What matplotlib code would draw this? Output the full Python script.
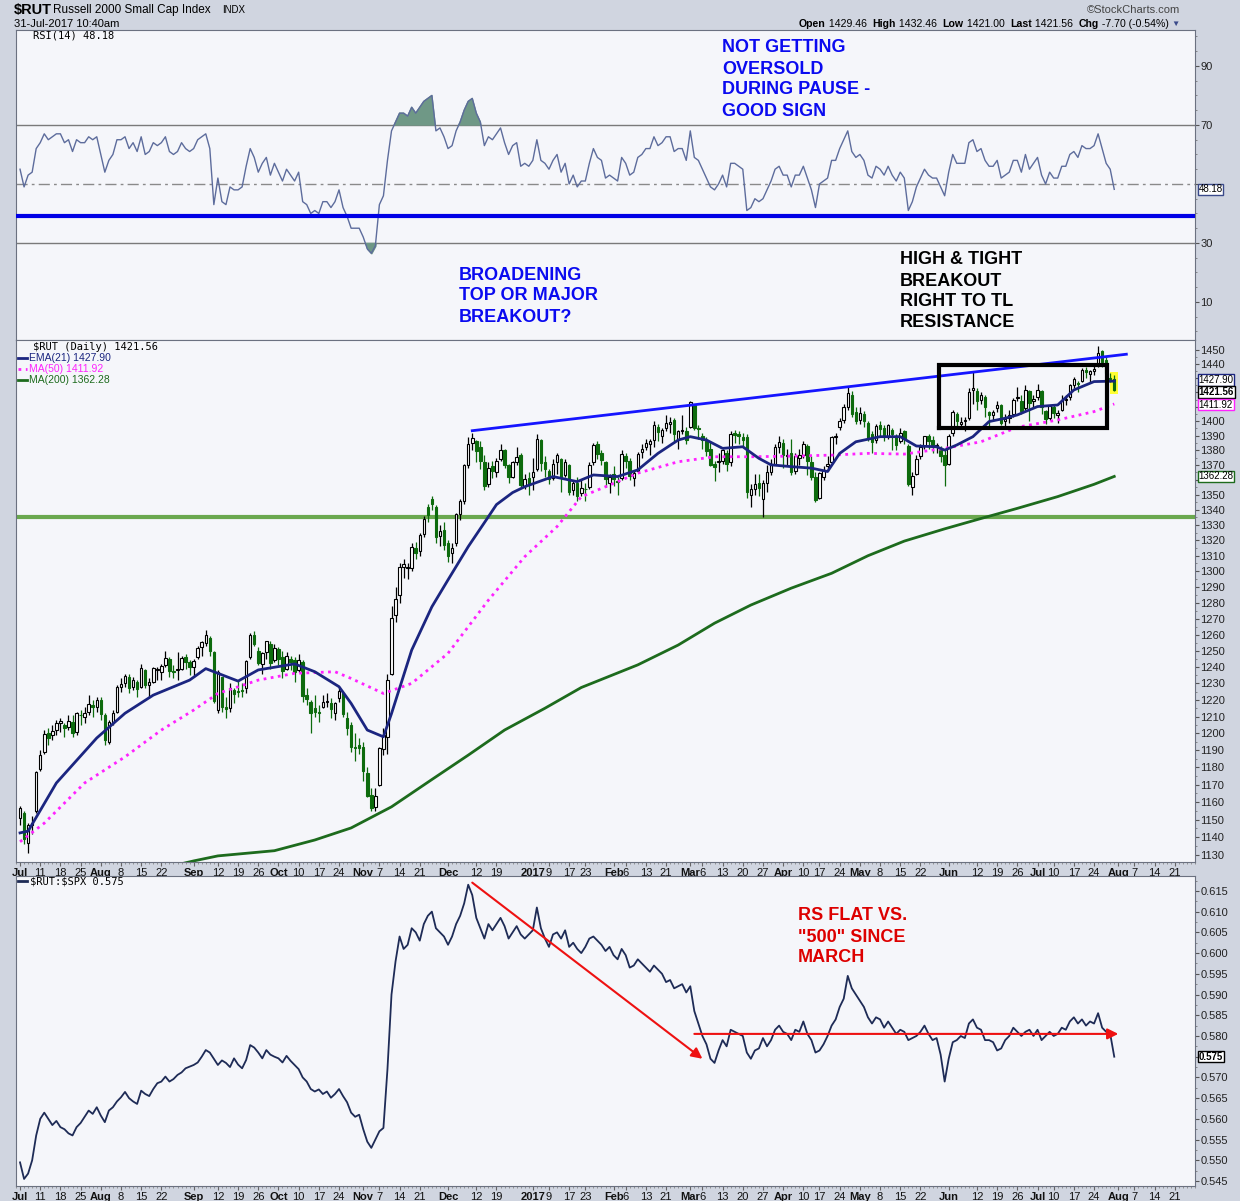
import matplotlib
matplotlib.use('Agg')
import matplotlib.pyplot as plt
import matplotlib.transforms as mtransforms
from matplotlib.lines import Line2D
from matplotlib.ticker import FixedLocator, NullFormatter, FuncFormatter
import numpy as np
import pandas as pd

plt.rcParams['font.family'] = ['Liberation Sans', 'DejaVu Sans']

# trading calendar (NYSE holidays dropped), runs past the data into Aug 2017
holidays = ['2016-07-04', '2016-09-05', '2016-11-24', '2016-12-26', '2017-01-02',
            '2017-01-16', '2017-02-20', '2017-04-14', '2017-05-29', '2017-07-04']
trade_days = pd.bdate_range('2016-07-01', '2017-08-31')
trade_days = trade_days[~trade_days.isin(pd.to_datetime(holidays))]
slot = {d: i for i, d in enumerate(trade_days)}


def xpos(d):
    return slot[pd.Timestamp(d)]


# $RUT daily candles, 1 Jul 2016 .. 31 Jul 2017 (one row per month)
opens = [
    1151, 1154, 1137, 1147, 1155, 1179, 1189, 1200, 1199, 1202, 1206, 1205, 1204, 1207, 1201, 1211, 1210, 1213, 1217, 1216,
    1220, 1211, 1195, 1207, 1213, 1228, 1230, 1234, 1228, 1231, 1228, 1238, 1229, 1231, 1238, 1237, 1241, 1245, 1237, 1238, 1239, 1246, 1243,
    1240, 1246, 1252, 1255, 1258, 1249, 1214, 1234, 1216, 1215, 1226, 1225, 1226, 1227, 1246, 1260, 1250, 1242, 1249, 1254, 1244,
    1251, 1246, 1239, 1245, 1244, 1238, 1243, 1223, 1219, 1215, 1213, 1216, 1219, 1218, 1212, 1221, 1224, 1209, 1205, 1192, 1193,
    1192, 1177, 1164, 1157, 1170, 1191, 1198, 1236, 1272, 1285, 1303, 1302, 1302, 1315, 1313, 1324, 1342, 1347, 1342, 1323, 1327,
    1318, 1312, 1318, 1337, 1346, 1370, 1385, 1386, 1382, 1372, 1357, 1369, 1365, 1374, 1380, 1370, 1362, 1372, 1377, 1356, 1361,
    1362, 1367, 1387, 1372, 1366, 1361, 1372, 1374, 1363, 1370, 1353, 1358, 1351, 1354, 1355, 1372, 1384, 1378, 1372, 1358,
    1364, 1359, 1361, 1376, 1373, 1361, 1366, 1379, 1382, 1384, 1387, 1396, 1390, 1395, 1398, 1401, 1388, 1393, 1393,
    1396, 1411, 1395, 1390, 1386, 1381, 1371, 1372, 1373, 1378, 1372, 1392, 1391, 1389, 1389, 1350, 1354, 1358, 1347, 1358, 1365, 1371, 1382,
    1385, 1376, 1378, 1366, 1375, 1377, 1383, 1372, 1362, 1348, 1362, 1369, 1372, 1389, 1396, 1401, 1410, 1418, 1406,
    1401, 1405, 1399, 1391, 1387, 1397, 1395, 1390, 1394, 1390, 1386, 1393, 1383, 1355, 1364, 1376, 1383, 1390, 1387, 1382, 1381, 1377,
    1371, 1392, 1405, 1398, 1400, 1402, 1422, 1421, 1415, 1417, 1406, 1404, 1409, 1411, 1400, 1402, 1405, 1416, 1414, 1409, 1421, 1414,
    1417, 1421, 1407, 1402, 1410, 1404, 1408, 1415, 1417, 1425, 1426, 1428, 1436, 1433, 1435, 1440, 1449, 1443, 1430, 1429.46,
]
highs = [
    1158, 1155, 1148, 1152, 1178, 1190, 1202, 1203, 1205, 1208, 1209, 1206, 1211, 1211, 1213, 1214, 1216, 1223, 1220, 1222,
    1222, 1212, 1208, 1214, 1229, 1233, 1236, 1236, 1234, 1232, 1242, 1239, 1233, 1240, 1240, 1242, 1250, 1246, 1241, 1249, 1247, 1248, 1244,
    1245, 1253, 1256, 1263, 1259, 1250, 1238, 1234, 1222, 1230, 1227, 1232, 1230, 1244, 1261, 1262, 1252, 1249, 1256, 1256, 1254,
    1252, 1250, 1249, 1247, 1246, 1248, 1244, 1227, 1220, 1223, 1217, 1223, 1224, 1221, 1219, 1228, 1225, 1213, 1207, 1200, 1197,
    1195, 1180, 1168, 1168, 1192, 1203, 1236, 1278, 1290, 1305, 1308, 1305, 1318, 1319, 1325, 1336, 1344, 1349, 1343, 1330, 1332,
    1320, 1318, 1338, 1347, 1371, 1389, 1392, 1387, 1386, 1377, 1372, 1373, 1375, 1384, 1381, 1371, 1373, 1382, 1378, 1364, 1365,
    1375, 1391, 1388, 1376, 1367, 1374, 1378, 1375, 1374, 1371, 1360, 1362, 1360, 1358, 1372, 1385, 1386, 1380, 1373, 1364,
    1369, 1362, 1380, 1378, 1375, 1366, 1379, 1384, 1388, 1388, 1400, 1398, 1395, 1404, 1403, 1402, 1394, 1404, 1396,
    1414, 1412, 1397, 1392, 1389, 1386, 1373, 1378, 1381, 1380, 1393, 1394, 1393, 1392, 1391, 1357, 1364, 1364, 1360, 1370, 1374, 1384, 1390,
    1388, 1381, 1388, 1378, 1381, 1386, 1384, 1376, 1365, 1365, 1369, 1376, 1390, 1392, 1402, 1412, 1424, 1421, 1410,
    1410, 1407, 1400, 1393, 1398, 1400, 1397, 1398, 1395, 1391, 1395, 1394, 1384, 1365, 1377, 1384, 1390, 1391, 1390, 1385, 1383, 1380,
    1391, 1408, 1406, 1403, 1403, 1423, 1435, 1423, 1420, 1418, 1407, 1408, 1414, 1412, 1405, 1408, 1416, 1424, 1418, 1425, 1422, 1418,
    1426, 1422, 1408, 1411, 1411, 1408, 1418, 1418, 1426, 1431, 1428, 1437, 1438, 1436, 1440, 1453, 1450, 1446, 1434, 1432.46,
]
lows = [
    1147, 1136, 1131, 1142, 1154, 1178, 1188, 1193, 1196, 1199, 1201, 1198, 1202, 1198, 1199, 1205, 1206, 1211, 1210, 1213,
    1208, 1193, 1194, 1205, 1212, 1225, 1228, 1224, 1226, 1222, 1227, 1227, 1221, 1230, 1232, 1232, 1240, 1234, 1233, 1232, 1238, 1239, 1235,
    1234, 1245, 1247, 1253, 1247, 1218, 1212, 1213, 1209, 1213, 1218, 1222, 1222, 1224, 1245, 1253, 1241, 1236, 1245, 1239, 1243,
    1241, 1233, 1238, 1238, 1231, 1237, 1219, 1217, 1200, 1210, 1207, 1215, 1216, 1209, 1208, 1219, 1210, 1199, 1189, 1184, 1188,
    1172, 1163, 1155, 1155, 1169, 1187, 1188, 1235, 1268, 1280, 1296, 1295, 1300, 1308, 1310, 1322, 1332, 1340, 1318, 1316, 1314,
    1306, 1305, 1316, 1333, 1344, 1368, 1380, 1372, 1367, 1353, 1355, 1361, 1362, 1373, 1368, 1358, 1361, 1370, 1355, 1354, 1350,
    1353, 1366, 1366, 1362, 1357, 1360, 1364, 1352, 1362, 1350, 1350, 1346, 1349, 1346, 1354, 1370, 1374, 1370, 1355, 1351,
    1356, 1350, 1360, 1368, 1360, 1356, 1365, 1375, 1380, 1377, 1382, 1386, 1385, 1393, 1392, 1385, 1381, 1391, 1384,
    1395, 1394, 1388, 1381, 1376, 1369, 1359, 1365, 1371, 1366, 1369, 1385, 1384, 1382, 1348, 1342, 1350, 1349, 1335, 1352, 1363, 1370, 1378,
    1368, 1369, 1363, 1364, 1370, 1375, 1363, 1360, 1345, 1347, 1360, 1366, 1371, 1384, 1394, 1399, 1408, 1403, 1398,
    1398, 1396, 1386, 1378, 1385, 1390, 1386, 1388, 1380, 1380, 1385, 1384, 1356, 1350, 1363, 1374, 1381, 1381, 1378, 1378, 1372, 1356,
    1370, 1390, 1396, 1395, 1393, 1401, 1412, 1408, 1412, 1403, 1396, 1400, 1406, 1397, 1395, 1399, 1403, 1414, 1405, 1408, 1400, 1410,
    1415, 1405, 1398, 1401, 1402, 1399, 1407, 1411, 1415, 1423, 1420, 1427, 1430, 1427, 1432, 1438, 1438, 1424, 1427, 1421.00,
]
closes = [
    1156.6, 1138.8, 1146.7, 1148.3, 1177.2, 1187.4, 1199.9, 1197.3, 1201.7, 1206.1, 1207.1, 1203.0, 1207.3, 1200.5, 1212.0, 1210.7, 1212.1, 1217.3, 1215.8, 1219.9,
    1211.7, 1196.4, 1206.9, 1212.2, 1227.9, 1229.5, 1234.3, 1227.4, 1232.2, 1226.8, 1239.6, 1228.9, 1231.1, 1239.3, 1238.3, 1240.5, 1245.8, 1237.8, 1236.9, 1238.3, 1245.5, 1243.3, 1239.9,
    1243.6, 1251.8, 1255.5, 1259.6, 1249.9, 1219.1, 1236.8, 1215.9, 1214.5, 1227.2, 1223.7, 1224.9, 1225.6, 1243.4, 1260.0, 1254.2, 1242.2, 1248.3, 1255.8, 1242.3, 1251.6,
    1245.0, 1237.8, 1246.5, 1243.2, 1236.7, 1244.1, 1222.6, 1220.6, 1212.3, 1212.9, 1212.0, 1218.6, 1219.2, 1214.4, 1218.3, 1225.4, 1211.3, 1203.3, 1192.0, 1191.4, 1191.4,
    1177.9, 1163.4, 1156.9, 1163.4, 1191.4, 1198.8, 1232.0, 1270.5, 1282.4, 1303.0, 1304.9, 1302.1, 1315.4, 1311.6, 1323.8, 1334.0, 1336.5, 1344.0, 1322.0, 1326.0, 1317.0,
    1310.0, 1315.2, 1337.0, 1345.7, 1369.7, 1384.2, 1388.1, 1379.7, 1372.6, 1355.9, 1367.9, 1365.7, 1372.4, 1380.2, 1370.0, 1361.6, 1371.8, 1375.7, 1356.7, 1360.6, 1357.1,
    1365.5, 1387.9, 1371.1, 1367.2, 1360.8, 1370.8, 1376.7, 1362.0, 1371.8, 1351.6, 1358.2, 1349.3, 1354.5, 1353.7, 1369.9, 1383.4, 1377.2, 1373.6, 1360.3, 1361.8,
    1360.8, 1358.7, 1377.8, 1372.4, 1362.6, 1364.8, 1377.8, 1380.9, 1385.0, 1386.1, 1397.4, 1392.7, 1393.8, 1398.9, 1399.2, 1391.2, 1393.2, 1394.0, 1386.7,
    1413.6, 1395.6, 1394.8, 1386.7, 1379.2, 1370.2, 1368.5, 1372.1, 1380.5, 1370.6, 1391.0, 1390.7, 1389.6, 1386.9, 1351.6, 1353.9, 1357.5, 1354.6, 1358.2, 1365.1, 1370.7, 1382.3, 1385.9,
    1376.6, 1376.7, 1365.6, 1375.9, 1376.5, 1384.3, 1372.5, 1362.0, 1346.5, 1364.8, 1366.6, 1370.7, 1388.8, 1389.0, 1400.2, 1409.9, 1419.4, 1405.0, 1400.4,
    1405.6, 1400.1, 1388.7, 1385.7, 1396.7, 1394.5, 1389.7, 1397.0, 1390.9, 1383.6, 1392.1, 1387.4, 1357.1, 1362.4, 1374.3, 1381.9, 1389.6, 1386.2, 1383.3, 1383.6, 1376.3, 1370.2,
    1390.0, 1406.4, 1400.0, 1399.1, 1400.0, 1420.6, 1423.3, 1414.3, 1418.0, 1410.0, 1404.4, 1406.3, 1411.2, 1398.9, 1401.7, 1404.0, 1414.8, 1416.0, 1406.9, 1422.0, 1412.4, 1415.4,
    1421.9, 1409.6, 1401.3, 1410.3, 1405.4, 1405.5, 1415.0, 1415.4, 1425.0, 1429.3, 1425.9, 1436.0, 1434.5, 1434.9, 1436.5, 1448.1, 1441.5, 1433.7, 1429.3, 1421.56,
]

# RSI(14), same days
rsi = [
    55, 49, 53, 54, 62, 64, 67, 65, 66, 67, 67, 64, 65, 61, 65, 64, 64, 66, 65, 66,
    60, 54, 58, 60, 65, 65, 66, 62, 64, 61, 66, 60, 61, 64, 63, 64, 66, 61, 60, 61, 64, 62, 61,
    62, 65, 66, 67, 62, 43, 52, 44, 43, 49, 48, 48, 49, 56, 62, 59, 54, 57, 59, 53, 57,
    54, 51, 55, 53, 51, 54, 44, 43, 40, 41, 40, 44, 44, 42, 44, 48, 42, 39, 35, 35, 35,
    32, 28, 26.5, 29, 43, 46, 58, 68, 71, 74, 74, 73, 76, 74, 76, 78, 79, 80, 68, 69, 66,
    62, 63, 68, 71, 75, 78, 79, 74, 71, 63, 66, 65, 67, 69, 64, 60, 63, 64, 56, 57, 56,
    58, 65, 58, 57, 55, 58, 60, 54, 57, 50, 53, 49, 51, 51, 57, 62, 59, 58, 52, 53,
    52, 51, 59, 57, 53, 54, 59, 60, 62, 62, 66, 63, 64, 66, 66, 61, 62, 62, 58,
    68, 59, 58, 55, 52, 49, 48, 50, 53, 49, 57, 57, 56, 55, 41, 42, 45, 44, 45, 48, 51, 55, 56,
    53, 53, 49, 53, 53, 56, 52, 48, 42, 50, 51, 52, 58, 58, 62, 65, 68, 61, 59,
    60, 58, 53, 52, 56, 55, 53, 56, 53, 51, 54, 52, 41, 44, 49, 52, 55, 53, 52, 52, 49, 46,
    54, 60, 57, 57, 57, 64, 65, 61, 62, 58, 56, 56, 58, 52, 53, 54, 58, 58, 54, 60, 55, 57,
    59, 53, 50, 54, 52, 52, 56, 56, 60, 61, 59, 63, 62, 62, 63, 67, 62, 57, 55, 48.18,
]

# $RUT:$SPX ratio, same days
ratio = [
    0.5495, 0.5455, 0.5468, 0.5500, 0.5560, 0.5600, 0.5615, 0.5600, 0.5585, 0.5595, 0.5580, 0.5575, 0.5565, 0.5560, 0.5580, 0.5590, 0.5605, 0.5620, 0.5612, 0.5628,
    0.5608, 0.5592, 0.5620, 0.5628, 0.5642, 0.5652, 0.5665, 0.5650, 0.5642, 0.5636, 0.5668, 0.5660, 0.5655, 0.5672, 0.5686, 0.5690, 0.5702, 0.5690, 0.5696, 0.5706, 0.5712, 0.5722, 0.5726,
    0.5730, 0.5736, 0.5750, 0.5766, 0.5760, 0.5745, 0.5730, 0.5741, 0.5735, 0.5725, 0.5746, 0.5731, 0.5722, 0.5742, 0.5778, 0.5772, 0.5760, 0.5746, 0.5766, 0.5755, 0.5750,
    0.5746, 0.5736, 0.5752, 0.5740, 0.5730, 0.5720, 0.5700, 0.5690, 0.5672, 0.5666, 0.5671, 0.5660, 0.5666, 0.5651, 0.5660, 0.5672, 0.5655, 0.5640, 0.5615, 0.5605, 0.5610,
    0.5575, 0.5545, 0.5530, 0.5550, 0.5570, 0.5578, 0.5720, 0.5900, 0.5980, 0.6040, 0.6010, 0.6020, 0.6060, 0.6050, 0.6030, 0.6070, 0.6090, 0.6100, 0.6060, 0.6050, 0.6040,
    0.6020, 0.6040, 0.6070, 0.6090, 0.6120, 0.6165, 0.6140, 0.6085, 0.6060, 0.6035, 0.6070, 0.6055, 0.6070, 0.6085, 0.6065, 0.6035, 0.6050, 0.6065, 0.6045, 0.6035, 0.6045,
    0.6055, 0.6110, 0.6060, 0.6035, 0.6015, 0.6045, 0.6050, 0.6035, 0.6055, 0.6015, 0.6025, 0.6010, 0.6000, 0.6015, 0.6035, 0.6040, 0.6030, 0.6020, 0.6005, 0.6015,
    0.5995, 0.5985, 0.6010, 0.5995, 0.5965, 0.5970, 0.5985, 0.5975, 0.5965, 0.5955, 0.5970, 0.5960, 0.5950, 0.5930, 0.5935, 0.5915, 0.5920, 0.5925, 0.5905,
    0.5920, 0.5860, 0.5830, 0.5800, 0.5780, 0.5745, 0.5735, 0.5765, 0.5790, 0.5775, 0.5815, 0.5810, 0.5805, 0.5800, 0.5760, 0.5745, 0.5765, 0.5770, 0.5795, 0.5775, 0.5790, 0.5815, 0.5825,
    0.5810, 0.5805, 0.5790, 0.5815, 0.5810, 0.5835, 0.5805, 0.5790, 0.5760, 0.5765, 0.5780, 0.5800, 0.5825, 0.5840, 0.5870, 0.5890, 0.5945, 0.5915, 0.5900,
    0.5885, 0.5870, 0.5845, 0.5830, 0.5845, 0.5840, 0.5820, 0.5835, 0.5820, 0.5805, 0.5815, 0.5810, 0.5790, 0.5795, 0.5800, 0.5810, 0.5825, 0.5805, 0.5790, 0.5795, 0.5755, 0.5690,
    0.5745, 0.5785, 0.5790, 0.5800, 0.5795, 0.5830, 0.5840, 0.5820, 0.5815, 0.5790, 0.5790, 0.5785, 0.5765, 0.5770, 0.5790, 0.5800, 0.5820, 0.5810, 0.5800, 0.5810, 0.5815, 0.5800,
    0.5815, 0.5790, 0.5800, 0.5810, 0.5800, 0.5805, 0.5820, 0.5815, 0.5835, 0.5845, 0.5830, 0.5840, 0.5825, 0.5835, 0.5830, 0.5855, 0.5820, 0.5810, 0.5805, 0.5750,
]

# moving averages
ema21_dates = ['2016-07-01', '2016-07-06', '2016-07-15', '2016-07-29', '2016-08-09', '2016-08-18', '2016-08-31',
               '2016-09-07', '2016-09-19', '2016-09-26', '2016-10-07', '2016-10-14', '2016-10-24', '2016-10-27',
               '2016-11-02', '2016-11-08', '2016-11-10', '2016-11-17', '2016-11-25', '2016-12-01', '2016-12-08',
               '2016-12-15', '2016-12-19', '2016-12-23', '2016-12-29', '2017-01-10', '2017-01-19', '2017-01-25',
               '2017-02-02', '2017-02-09', '2017-02-16', '2017-02-24', '2017-03-01', '2017-03-07', '2017-03-13',
               '2017-03-20', '2017-03-24', '2017-03-29', '2017-04-05', '2017-04-12', '2017-04-19', '2017-04-24',
               '2017-04-28', '2017-05-08', '2017-05-15', '2017-05-19', '2017-05-26', '2017-05-31', '2017-06-05',
               '2017-06-09', '2017-06-15', '2017-06-21', '2017-06-26', '2017-07-03', '2017-07-11', '2017-07-17',
               '2017-07-24', '2017-07-31']
ema21_vals = [1142.5, 1143.5, 1171.0, 1197.3, 1212.0, 1222.9, 1232.0, 1239.0, 1231.4, 1238.2, 1241.9, 1237.1,
              1228.0, 1217.9, 1202.0, 1198.0, 1211.8, 1250.4, 1277.4, 1294.5, 1315.9, 1335.5, 1343.5, 1351.5,
              1355.4, 1362.2, 1358.8, 1363.3, 1362.2, 1366.7, 1377.9, 1387.0, 1389.3, 1387.0, 1381.3, 1382.4,
              1374.5, 1370.1, 1368.9, 1367.9, 1365.6, 1377.9, 1385.8, 1389.3, 1389.3, 1382.9, 1382.4, 1380.1,
              1383.6, 1389.3, 1399.7, 1402.0, 1404.3, 1410.1, 1411.2, 1421.7, 1427.6, 1427.9]

ma50_dates = ['2016-07-01', '2016-07-12', '2016-07-26', '2016-08-09', '2016-08-22', '2016-09-01', '2016-09-12',
              '2016-09-26', '2016-10-07', '2016-10-21', '2016-10-27', '2016-11-08', '2016-11-17', '2016-12-01',
              '2016-12-15', '2016-12-29', '2017-01-11', '2017-01-20', '2017-01-31', '2017-02-09', '2017-02-24',
              '2017-03-09', '2017-03-22', '2017-04-05', '2017-04-20', '2017-05-03', '2017-05-16', '2017-05-31',
              '2017-06-13', '2017-06-26', '2017-07-11', '2017-07-24', '2017-07-31']
ma50_vals = [1137.5, 1148.0, 1171.0, 1186.2, 1202.0, 1213.9, 1223.9, 1232.0, 1236.1, 1237.1, 1233.0, 1223.9,
             1230.0, 1248.4, 1281.6, 1309.4, 1329.0, 1348.7, 1356.5, 1364.5, 1372.2, 1375.6, 1375.6, 1376.0,
             1376.7, 1377.9, 1377.4, 1381.3, 1385.8, 1395.8, 1400.8, 1406.6, 1411.9]

ma200_dates = ['2016-08-15', '2016-09-01', '2016-09-12', '2016-09-30', '2016-10-14', '2016-10-27', '2016-11-10',
               '2016-11-25', '2016-12-08', '2016-12-21', '2017-01-06', '2017-01-20', '2017-02-09', '2017-02-24',
               '2017-03-09', '2017-03-22', '2017-04-05', '2017-04-20', '2017-05-03', '2017-05-16', '2017-05-31',
               '2017-06-13', '2017-06-26', '2017-07-11', '2017-07-24', '2017-07-31']
ma200_vals = [1120.0, 1126.8, 1129.6, 1132.5, 1138.5, 1145.3, 1157.3, 1173.0, 1187.2, 1202.0, 1215.0, 1227.5,
              1241.3, 1253.5, 1267.1, 1278.5, 1289.2, 1298.7, 1310.0, 1319.5, 1327.5, 1334.3, 1341.0, 1348.8,
              1357.0, 1362.3]

# drawn studies
trend_dates = ['2016-12-09', '2017-08-03']
trend_prices = [1393.4, 1447.0]
support_level = 1335.3
box_dates = ['2017-05-26', '2017-07-27']
box_prices = [1395.4, 1439.3]
rsi_support = 39.0
rs_arrow_dates = ['2016-12-09', '2017-03-06']
rs_arrow_vals = [0.6170, 0.5745]
rs_flat_dates = ['2017-03-02', '2017-08-01']
rs_flat_val = 0.5805

# date axis labels
tick_dates = ['2016-07-01', '2016-07-11', '2016-07-18', '2016-07-25', '2016-08-01', '2016-08-08', '2016-08-15',
              '2016-08-22', '2016-09-01', '2016-09-12', '2016-09-19', '2016-09-26', '2016-10-03', '2016-10-10',
              '2016-10-17', '2016-10-24', '2016-11-01', '2016-11-07', '2016-11-14', '2016-11-21', '2016-12-01',
              '2016-12-12', '2016-12-19', '2017-01-03', '2017-01-09', '2017-01-17', '2017-01-23', '2017-02-01',
              '2017-02-06', '2017-02-13', '2017-02-21', '2017-03-01', '2017-03-06', '2017-03-13', '2017-03-20',
              '2017-03-27', '2017-04-03', '2017-04-10', '2017-04-17', '2017-04-24', '2017-05-01', '2017-05-08',
              '2017-05-15', '2017-05-22', '2017-06-01', '2017-06-12', '2017-06-19', '2017-06-26', '2017-07-03',
              '2017-07-10', '2017-07-17', '2017-07-24', '2017-08-01', '2017-08-07', '2017-08-14', '2017-08-21']
tick_labels = ['Jul', '11', '18', '25', 'Aug', '8', '15', '22', 'Sep', '12', '19', '26', 'Oct', '10', '17', '24',
               'Nov', '7', '14', '21', 'Dec', '12', '19', '2017', '9', '17', '23', 'Feb', '6', '13', '21', 'Mar',
               '6', '13', '20', '27', 'Apr', '10', '17', '24', 'May', '8', '15', '22', 'Jun', '12', '19', '26',
               'Jul', '10', '17', '24', 'Aug', '7', '14', '21']

# axis labels that sit behind the value tags
price_hidden = [1360, 1410, 1420, 1430]
rsi_hidden = [50]
rs_hidden = [575]

W, H = 1240, 1201


def fx(px):
    return px / W


def fy(py):
    return 1 - py / H


fig = plt.figure(figsize=(12.4, 12.01), dpi=100, facecolor='#d0d5e0')
left, width = fx(16), (1195 - 16) / W
ax_rsi = fig.add_axes([left, fy(340), width, 310 / H])
ax_px = fig.add_axes([left, fy(862), width, 522 / H])
ax_rs = fig.add_axes([left, fy(1186), width, 310 / H])

o, h, l, c = map(np.array, (opens, highs, lows, closes))
x = np.arange(len(c))
rsi_a = np.array(rsi)

for ax in (ax_rsi, ax_px, ax_rs):
    ax.set_facecolor('#f5f6fa')
    ax.set_xlim(-1, 291)
    for s in ax.spines.values():
        s.set_color('#6b7180')
    ax.yaxis.tick_right()

# ---- RSI panel ----
ax_rsi.set_ylim(-2.9, 102.2)
ax_rsi.axhline(70, color='#7a7a7a', lw=1, zorder=2)
ax_rsi.axhline(30, color='#7a7a7a', lw=1, zorder=2)
ax_rsi.axhline(50, color='#8a8a8a', lw=1, ls=(0, (8, 3, 2, 3)), zorder=2)
ax_rsi.fill_between(x, rsi_a, 70, where=rsi_a >= 70, interpolate=True, color='#6f9886', zorder=3)
ax_rsi.fill_between(x, rsi_a, 30, where=rsi_a <= 30, interpolate=True, color='#6f9886', zorder=3)
ax_rsi.plot(x, rsi_a, color='#5d6c9c', lw=1, zorder=4)
ax_rsi.axhline(rsi_support, color='#0000e6', lw=3, zorder=5)
ax_rsi.yaxis.set_major_locator(FixedLocator([10, 30, 50, 70, 90]))
ax_rsi.yaxis.set_major_formatter(FuncFormatter(lambda v, p: '' if round(v) in rsi_hidden else f'{v:.0f}'))
ax_rsi.yaxis.set_minor_locator(FixedLocator(np.arange(0, 101, 5)))
ax_rsi.set_xticks([])

# ---- price panel ----
ax_px.set_yscale('log')
ax_px.set_ylim(1126.2, 1457.2)
ax_px.yaxis.set_major_locator(FixedLocator(np.arange(1130, 1451, 10)))
ax_px.yaxis.set_major_formatter(FuncFormatter(lambda v, p: '' if round(v) in price_hidden else f'{v:.0f}'))
ax_px.yaxis.set_minor_locator(FixedLocator(np.arange(1135, 1451, 10)))
ax_px.yaxis.set_minor_formatter(NullFormatter())

ax_px.axhline(support_level, color='#6aa84f', lw=3, zorder=2)
ax_px.bar(x[-1], h[-1] - l[-1] + 4, bottom=l[-1] - 2, width=2.0, color='#ffff33', zorder=2)

up = c >= o
body_lo = np.minimum(o, c)
body_h = np.maximum(np.abs(c - o), 0.5)
green = '#0d6b0d'
ax_px.vlines(x[up], l[up], h[up], color='black', lw=0.9, zorder=3)
ax_px.vlines(x[~up], l[~up], h[~up], color=green, lw=0.9, zorder=3)
ax_px.bar(x[up], body_h[up], bottom=body_lo[up], width=0.62, facecolor='white',
          edgecolor='black', linewidth=0.8, zorder=4)
ax_px.bar(x[~up], body_h[~up], bottom=body_lo[~up], width=0.62, facecolor=green,
          edgecolor=green, linewidth=0.8, zorder=4)

ax_px.plot([xpos(d) for d in ma200_dates], ma200_vals, color='#1d6b1d', lw=2, zorder=5)
ax_px.plot([xpos(d) for d in ma50_dates], ma50_vals, color='#ff22ff', lw=2,
           ls=(0, (1, 1.6)), zorder=5)
ax_px.plot([xpos(d) for d in ema21_dates], ema21_vals, color='#1b2580', lw=2, zorder=5)
ax_px.plot([xpos(d) for d in trend_dates], trend_prices, color='#1515ff', lw=2, zorder=6)
bx0, bx1 = xpos(box_dates[0]) + 0.7, xpos(box_dates[1]) + 0.1
ax_px.plot([bx0, bx1, bx1, bx0, bx0],
           [box_prices[0], box_prices[0], box_prices[1], box_prices[1], box_prices[0]],
           color='black', lw=3, zorder=6, solid_joinstyle='miter')

# ---- RS panel ----
ax_rs.set_ylim(0.5438, 0.6186)
ax_rs.yaxis.set_major_locator(FixedLocator(np.round(np.arange(545, 616, 5) / 1000, 3)))
ax_rs.yaxis.set_major_formatter(FuncFormatter(
    lambda v, p: '' if round(v * 1000) in rs_hidden else f'{v:.3f}'))
ax_rs.yaxis.set_minor_locator(FixedLocator(np.round(np.arange(5475, 6176, 50) / 10000, 4)))
ax_rs.plot(x, ratio, color='#1e2b56', lw=1.3, zorder=4)
ax_rs.annotate('', xy=(xpos(rs_arrow_dates[1]), rs_arrow_vals[1]),
               xytext=(xpos(rs_arrow_dates[0]), rs_arrow_vals[0]),
               arrowprops=dict(arrowstyle='-|>', color='#ee1111', lw=1.5, mutation_scale=16,
                               shrinkA=0, shrinkB=0), zorder=6)
ax_rs.annotate('', xy=(xpos(rs_flat_dates[1]), rs_flat_val),
               xytext=(xpos(rs_flat_dates[0]), rs_flat_val),
               arrowprops=dict(arrowstyle='-|>', color='#ee1111', lw=1.5, mutation_scale=16,
                               shrinkA=0, shrinkB=0), zorder=6)

# axes ticks
tick_pos = [xpos(d) for d in tick_dates]
for ax in (ax_rsi, ax_px, ax_rs):
    ax.tick_params(axis='y', which='major', direction='out', length=3, labelsize=8,
                   colors='#555555', labelcolor='#222222', pad=1)
    ax.tick_params(axis='y', which='minor', direction='out', length=1.5, colors='#777777')
for ax in (ax_px, ax_rs):
    ax.set_xticks(tick_pos)
    ax.set_xticklabels(tick_labels)
    ax.set_xticks(np.arange(-1, 292), minor=True)
    ax.tick_params(axis='x', which='major', length=3, labelsize=8, pad=1.5,
                   colors='#666666', labelcolor='#111111')
    ax.tick_params(axis='x', which='minor', length=1.5, colors='#888888')
    for lab, txt in zip(ax.get_xticklabels(), tick_labels):
        lab.set_fontweight('bold' if (not txt.isdigit() or txt == '2017') else 'normal')


# value tags on the right axis
def tag(ax, y, s, ec, bold=False, dy=0.0):
    tr = mtransforms.blended_transform_factory(ax.transAxes, ax.transData)
    tr = tr + mtransforms.ScaledTranslation(0, dy / 72, fig.dpi_scale_trans)
    ax.text(1.003, y, s, transform=tr, fontsize=7, ha='left', va='center',
            fontweight='bold' if bold else 'normal',
            bbox=dict(boxstyle='square,pad=0.08', fc='white', ec=ec, lw=1), clip_on=False, zorder=10)


tag(ax_rsi, rsi[-1], f'{rsi[-1]:.2f}', '#3a4a8a')
tag(ax_px, ema21_vals[-1], '1427.90', '#1b2580', dy=1.0)
tag(ax_px, closes[-1], f'{closes[-1]:.2f}', 'black', bold=True, dy=-1.4)
tag(ax_px, ma50_vals[-1], '1411.92', '#ff22ff', dy=-0.5)
tag(ax_px, ma200_vals[-1], '1362.28', '#1d6b1d')
tag(ax_rs, ratio[-1], f'{ratio[-1]:.3f}', 'black', bold=True)

# header
fig.text(fx(14), fy(10), r'\$RUT', fontsize=10.5, fontweight='bold', va='center')
fig.text(fx(53), fy(10), 'Russell 2000 Small Cap Index', fontsize=8.5, va='center')
fig.text(fx(222), fy(10), 'INDX', fontsize=7, va='center')
fig.text(fx(14), fy(24), '31-Jul-2017 10:40am', fontsize=8, va='center')
fig.text(fx(1180), fy(10), '\u00a9StockCharts.com', fontsize=8, va='center', ha='right', color='#444444')
quote = [('Open', True), (' 1429.46  ', False), ('High', True), (' 1432.46  ', False),
         ('Low', True), (' 1421.00  ', False), ('Last', True), (' 1421.56  ', False),
         ('Chg', True), (' -7.70 (-0.54%)', False)]
renderer = fig.canvas.get_renderer()
qx = 799
for s, b in quote:
    t = fig.text(fx(qx), fy(24), s, fontsize=7.6, va='center', fontweight='bold' if b else 'normal')
    qx += t.get_window_extent(renderer).width
fig.text(fx(qx + 3), fy(24), '\u25bc', fontsize=6, va='center', color='#3a4a8a')

# panel legends
fig.text(fx(33), fy(35), 'RSI(14) 48.18', fontsize=7.5, va='center', family='DejaVu Sans Mono')
fig.text(fx(33), fy(347), r'\$RUT (Daily) 1421.56', fontsize=7.5, va='center', family='DejaVu Sans Mono')
legend_rows = [('EMA(21) 1427.90', '#1b2580', '-'), ('MA(50) 1411.92', '#ff22ff', ':'),
               ('MA(200) 1362.28', '#1d6b1d', '-')]
for i, (s, col, ls) in enumerate(legend_rows):
    yy = 358 + 11 * i
    fig.add_artist(Line2D([fx(18), fx(27)], [fy(yy), fy(yy)], color=col, lw=2, ls=ls))
    fig.text(fx(29), fy(yy), s, fontsize=7.5, va='center', color=col)
fig.add_artist(Line2D([fx(18), fx(27)], [fy(881), fy(881)], color='#1e2b56', lw=2))
fig.text(fx(30), fy(881), r'\$RUT:\$SPX 0.575', fontsize=7.5, va='center', family='DejaVu Sans Mono')


# chart notes
def note(lines, px, py, color):
    for i, s in enumerate(lines):
        fig.text(fx(px), fy(py + 21 * i), s, fontsize=13, fontweight='bold', color=color, va='center')


note(['NOT GETTING', 'OVERSOLD', 'DURING PAUSE -', 'GOOD SIGN'], 722, 48, '#0a0af0')
note(['BROADENING', 'TOP OR MAJOR', 'BREAKOUT?'], 459, 275, '#0a0af0')
note(['HIGH & TIGHT', 'BREAKOUT', 'RIGHT TO TL', 'RESISTANCE'], 900, 260, 'black')
note(['RS FLAT VS.', '"500" SINCE', 'MARCH'], 798, 916, '#dd0000')

fig.savefig('out.png', dpi=100, facecolor=fig.get_facecolor())
